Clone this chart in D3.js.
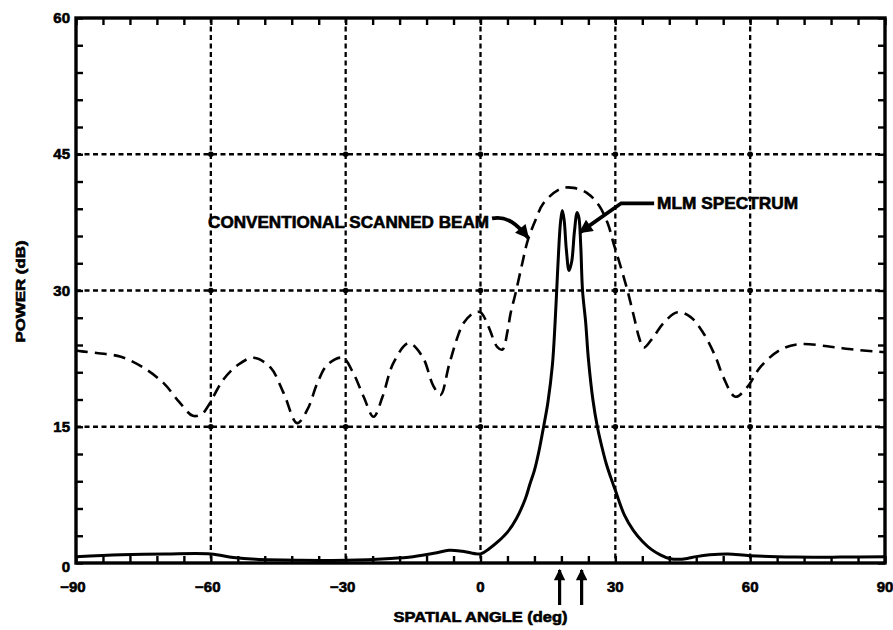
<!DOCTYPE html>
<html>
<head>
<meta charset="utf-8">
<script src="https://cdn.jsdelivr.net/npm/d3@7/dist/d3.min.js"></script>
<style>
  html, body { margin: 0; padding: 0; background: #fff; }
  svg { display: block; }
  text { font-family: "Liberation Sans", Arial, sans-serif; font-weight: bold; fill: #000; stroke: #000; stroke-width: 0.6px; }
</style>
</head>
<body>
<svg id="chart" width="893" height="630"></svg>
<script>
// ---------- data ----------
const xTicks = [-90, -60, -30, 0, 30, 60, 90];
const yTicks = [0, 15, 30, 45, 60];

// Conventional scanned beam (dashed)
const convAngle = [-90, -88.7, -85, -80, -75, -70.5, -67, -64, -62, -60.7, -57.2, -54, -50.5, -46.7, -43.8, -40.8, -38.5,
  -36.3, -34.1, -30.7, -28.3, -26, -23.8, -21.8, -19.4, -16, -12.9, -10.5, -8.9, -7, -5.1, -3.8, -1.6, 0, 1.8, 3.7, 4.9,
  6.0, 6.7, 7.8, 9.3, 10.5, 12.2, 14, 17.8, 20.7, 23.8, 26.3, 28.3, 29.6, 31.2, 32.7, 34.2, 35.3, 36.3, 38.5, 40.7, 43.8,
  46.7, 49.6, 52.3, 54, 56.7, 59.4, 62.3, 66.8, 71.2, 77.9, 83, 87.5, 90];
const convPower = [23.4, 23.3, 23.1, 22.7, 21.5, 19.8, 17.7, 16.2, 16.4, 17.2, 20.2, 21.8, 22.6, 21.5, 18.7, 15.4, 16.9,
  19.8, 21.8, 22.6, 20.9, 18.3, 16.1, 18.3, 22.0, 24.2, 22.7, 19.5, 18.5, 21.8, 24.9, 26.4, 27.5, 27.6, 26.0, 23.8, 23.5,
  25.5, 27.5, 29.7, 33.0, 35.5, 37.7, 39.6, 41.2, 41.3, 40.7, 39.4, 37.4, 35.2, 32.6, 30.0, 27.0, 24.8, 23.7, 24.9, 26.4, 27.6,
  27.1, 25.3, 22.7, 20.5, 18.3, 19.4, 21.6, 23.5, 24.1, 23.8, 23.5, 23.3, 23.2];

// MLM spectrum (solid)
const mlmAngle = [-90, -80, -70, -60, -55, -50, -40, -30, -20, -15, -10, -7, -4, 0, 2, 4, 6, 8, 10, 11, 12, 13, 14, 15,
  16, 16.6, 17, 17.4, 17.8, 18.2, 18.6, 19.1, 19.7, 20.3, 20.9, 21.5, 21.9, 22.3, 22.7, 23.4, 24, 25, 26, 27, 28, 29, 30,
  32, 34, 36, 38, 40, 42, 44, 46, 48, 51, 55, 60, 70, 80, 90];
const mlmPower = [0.7, 0.9, 1.0, 1.0, 0.6, 0.4, 0.3, 0.3, 0.5, 0.7, 1.1, 1.4, 1.3, 1.0, 1.6, 2.4, 3.4, 4.9, 7.1, 8.7, 10.2,
  12.3, 14.9, 17.7, 21.8, 26.5, 30.5, 34.5, 37.5, 38.8, 37.8, 34.5, 32.2, 33.2, 36.5, 38.6, 38.0, 35.0, 30.0, 26.5, 22.5,
  18.0, 15.0, 12.8, 10.9, 9.4, 8.0, 5.3, 3.6, 2.4, 1.5, 0.9, 0.5, 0.4, 0.5, 0.7, 0.9, 1.0, 0.8, 0.65, 0.65, 0.7];

// source directions marked by arrows under the axis
const sourceAngles = [17.6, 22.5];

// annotations
const convLabel = { text: "CONVENTIONAL SCANNED BEAM", angle: 1.9, power: 37.5, tipAngle: 10.6, tipPower: 35.8 };
const mlmLabel = { text: "MLM SPECTRUM", angle: 39.3, power: 39.6, elbowAngle: 31.3, tipAngle: 22.1, tipPower: 36.4 };

// ---------- drawing ----------
const svg = d3.select("#chart");
const x = d3.scaleLinear().domain([-90, 90]).range([76, 885]);
const y = d3.scaleLinear().domain([0, 60]).range([563, 18]);

// grid
const grid = svg.append("g");
xTicks.slice(1, -1).forEach(t => {
  grid.append("line").attr("x1", x(t)).attr("x2", x(t)).attr("y1", y(60)).attr("y2", y(0))
    .attr("stroke", "#000").attr("stroke-width", 2.3).attr("stroke-dasharray", "5,3.5");
});
yTicks.slice(1, -1).forEach(t => {
  grid.append("line").attr("x1", x(-90)).attr("x2", x(90)).attr("y1", y(t)).attr("y2", y(t))
    .attr("stroke", "#000").attr("stroke-width", 2.3).attr("stroke-dasharray", "5,3.5");
});
xTicks.slice(1, -1).forEach(tx => yTicks.slice(1, -1).forEach(ty => {
  grid.append("circle").attr("cx", x(tx)).attr("cy", y(ty)).attr("r", 2.8).attr("fill", "#000");
}));

// axes with inward minor ticks
const minorX = d3.range(-90, 90.1, 6);
const minorY = d3.range(0, 60.1, 3);
const axTop = svg.append("g").attr("transform", `translate(0,${y(60)})`)
  .call(d3.axisTop(x).tickValues(minorX).tickSize(-7).tickFormat(""));
const axBottom = svg.append("g").attr("transform", `translate(0,${y(0)})`)
  .call(d3.axisBottom(x).tickValues(minorX).tickSize(-7).tickFormat(""));
const axLeft = svg.append("g").attr("transform", `translate(${x(-90)},0)`)
  .call(d3.axisLeft(y).tickValues(minorY).tickSize(-7).tickFormat(""));
const axRight = svg.append("g").attr("transform", `translate(${x(90)},0)`)
  .call(d3.axisRight(y).tickValues(minorY).tickSize(-7).tickFormat(""));
[axTop, axBottom, axLeft, axRight].forEach(a => {
  a.select(".domain").remove();
  a.selectAll(".tick line").attr("stroke", "#000").attr("stroke-width", 2.4);
});
// frame
svg.append("rect").attr("x", x(-90)).attr("y", y(60)).attr("width", x(90) - x(-90)).attr("height", y(0) - y(60))
  .attr("fill", "none").attr("stroke", "#000").attr("stroke-width", 3.4);

// tick labels
const fmt = v => (v < 0 ? "\u2212" + Math.abs(v) : String(v));
svg.append("g").selectAll("text").data(xTicks).join("text")
  .attr("x", d => x(d) - (d < 0 ? 3 : 0)).attr("y", y(0) + 29)
  .attr("text-anchor", "middle").attr("font-size", 15).text(fmt);
svg.append("g").selectAll("text").data(yTicks).join("text")
  .attr("x", x(-90) - 6).attr("y", d => y(d) + 5 + (d === 0 ? 4 : 0))
  .attr("text-anchor", "end").attr("font-size", 15).text(d => d);

// axis titles
svg.append("text").attr("x", x(0)).attr("y", 622).attr("text-anchor", "middle")
  .attr("font-size", 15).attr("textLength", 174).attr("lengthAdjust", "spacingAndGlyphs")
  .text("SPATIAL ANGLE (deg)");
svg.append("text").attr("transform", `translate(25,${(y(0) + y(60)) / 2 + 1}) rotate(-90)`)
  .attr("text-anchor", "middle").attr("font-size", 13).attr("textLength", 102).attr("lengthAdjust", "spacingAndGlyphs")
  .text("POWER (dB)");

// series
const line = d3.line().x(d => x(d[0])).y(d => y(d[1])).curve(d3.curveCatmullRom.alpha(0.5));
svg.append("path").datum(d3.zip(convAngle, convPower)).attr("d", line)
  .attr("fill", "none").attr("stroke", "#000").attr("stroke-width", 2.6)
  .attr("stroke-dasharray", "12,7");
svg.append("path").datum(d3.zip(mlmAngle, mlmPower)).attr("d", line)
  .attr("fill", "none").attr("stroke", "#000").attr("stroke-width", 3).attr("stroke-linejoin", "round");

// arrowhead marker
svg.append("defs").append("marker").attr("id", "ah").attr("viewBox", "0 0 10 10")
  .attr("refX", 9).attr("refY", 5).attr("markerWidth", 4).attr("markerHeight", 3.6)
  .attr("markerUnits", "strokeWidth").attr("orient", "auto")
  .append("path").attr("d", "M0,0 L10,5 L0,10 z").attr("fill", "#000");

// source arrows
svg.append("g").selectAll("line").data(sourceAngles).join("line")
  .attr("x1", d => x(d)).attr("x2", d => x(d)).attr("y1", y(0) + 42).attr("y2", y(0) + 7)
  .attr("stroke", "#000").attr("stroke-width", 3.2).attr("marker-end", "url(#ah)");

// annotation: conventional
const cx0 = x(convLabel.angle), cy0 = y(convLabel.power);
svg.append("text").attr("x", cx0).attr("y", cy0 + 6).attr("text-anchor", "end")
  .attr("font-size", 17).attr("textLength", 281).attr("lengthAdjust", "spacingAndGlyphs").text(convLabel.text);
const ctx = x(convLabel.tipAngle), cty = y(convLabel.tipPower);
svg.append("path")
  .attr("d", `M${cx0 + 3},${cy0 - 4} C${cx0 + 18},${cy0 - 7} ${cx0 + 28},${cy0 + 2} ${ctx},${cty}`)
  .attr("fill", "none").attr("stroke", "#000").attr("stroke-width", 3.8).attr("marker-end", "url(#ah)");

// annotation: MLM
const mx0 = x(mlmLabel.angle), my0 = y(mlmLabel.power);
svg.append("text").attr("x", mx0).attr("y", my0 + 6).attr("text-anchor", "start")
  .attr("font-size", 17).attr("textLength", 141).attr("lengthAdjust", "spacingAndGlyphs").text(mlmLabel.text);
svg.append("path")
  .attr("d", `M${mx0 - 3},${my0} L${x(mlmLabel.elbowAngle)},${my0} L${x(mlmLabel.tipAngle)},${y(mlmLabel.tipPower)}`)
  .attr("fill", "none").attr("stroke", "#000").attr("stroke-width", 3.8).attr("marker-end", "url(#ah)");
</script>
</body>
</html>
